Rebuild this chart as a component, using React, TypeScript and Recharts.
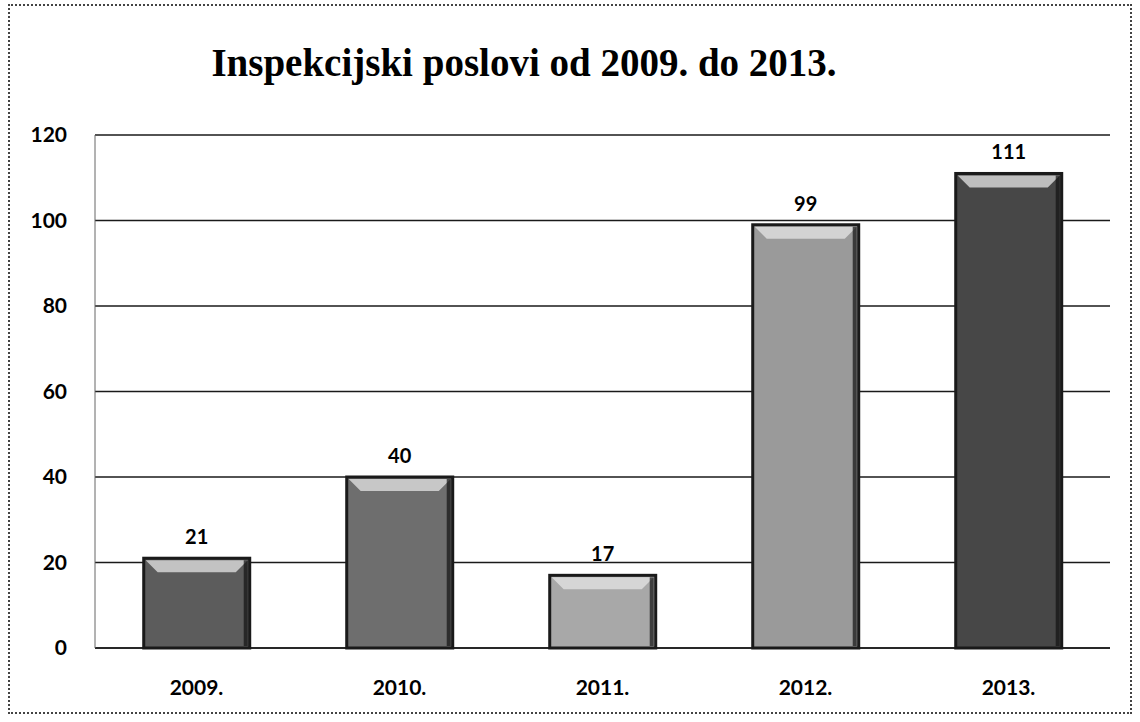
import React from "react";
import { BarChart, Bar, XAxis, YAxis, CartesianGrid, Cell, LabelList } from "recharts";

const years = ["2009.", "2010.", "2011.", "2012.", "2013."];
const counts = [21, 40, 17, 99, 111];
const barColors = ["#5c5c5c", "#6e6e6e", "#a8a8a8", "#9a9a9a", "#474747"];
const yTicks = [0, 20, 40, 60, 80, 100, 120];

const data = years.map((y, i) => ({ year: y, value: counts[i], color: barColors[i] }));

const BevelBar = (props: any) => {
  const { x, y, width, height, fill } = props;
  if (!height || height <= 0) return null;
  const b = Math.min(14, height / 3);
  return (
    <g>
      <rect x={x} y={y} width={width} height={height} fill={fill} stroke="#1a1a1a" strokeWidth={3} />
      <polygon
        points={`${x + 2},${y + 2} ${x + width - 2},${y + 2} ${x + width - b},${y + b} ${x + b},${y + b}`}
        fill="#e6e6e6"
        opacity={0.75}
      />
      <rect x={x + width - 6} y={y + 2} width={4} height={height - 4} fill="#111" opacity={0.7} />
    </g>
  );
};

export default function App() {
  return (
    <div style={{ position: "fixed", left: 0, top: 0, width: 1140, height: 722, background: "#fff" }}>
      <div
        style={{
          position: "absolute",
          left: 8,
          top: 4,
          width: 1124,
          height: 710,
          border: "2px dotted #444",
          boxSizing: "border-box",
        }}
      />
      <div
        style={{
          position: "absolute",
          left: 0,
          top: 40,
          width: 1048,
          textAlign: "center",
          fontFamily: "'Liberation Serif', serif",
          fontWeight: "bold",
          fontSize: 39,
          color: "#000",
        }}
      >
        Inspekcijski poslovi od 2009. do 2013.
      </div>
      <div style={{ position: "absolute", left: 0, top: 0 }}>
        <BarChart
          width={1140}
          height={722}
          data={data}
          margin={{ top: 135, right: 30, left: 0, bottom: 34 }}
          barCategoryGap="24%"
        >
          <CartesianGrid vertical={false} stroke="#1a1a1a" strokeWidth={1.5} />
          <XAxis
            dataKey="year"
            height={40}
            axisLine={{ stroke: "#1a1a1a", strokeWidth: 1.5 }}
            tickLine={false}
            tick={{ fill: "#000", fontSize: 21, fontFamily: "Lato, sans-serif", fontWeight: "bold" }}
            tickMargin={26}
          />
          <YAxis
            width={95}
            domain={[0, 120]}
            ticks={yTicks}
            axisLine={{ stroke: "#666", strokeWidth: 1 }}
            tickLine={false}
            tickMargin={22}
            tick={{ fill: "#000", fontSize: 21, fontFamily: "Lato, sans-serif", fontWeight: "bold" }}
          />
          <Bar dataKey="value" isAnimationActive={false} shape={<BevelBar />}>
            {data.map((d, i) => (
              <Cell key={i} fill={d.color} />
            ))}
            <LabelList
              dataKey="value"
              position="top"
              offset={14}
              style={{ fill: "#000", fontSize: 20, fontFamily: "Lato, sans-serif", fontWeight: "bold" }}
            />
          </Bar>
        </BarChart>
      </div>
    </div>
  );
}
